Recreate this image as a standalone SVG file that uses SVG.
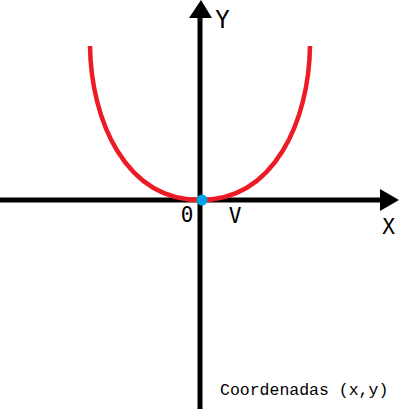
<svg xmlns="http://www.w3.org/2000/svg" width="401" height="409" viewBox="0 0 401 409">
<style>
.axis{stroke:#000;stroke-width:5;fill:none}
.head{fill:#000}
.curve{stroke:#ed1c24;stroke-width:4.5;fill:none}
.lbl{font-family:"DejaVu Sans Mono","Liberation Mono",monospace;fill:#000;text-anchor:middle}
</style>
<rect width="401" height="409" fill="#fff"/>
<g id="connectors">
<line class="axis" x1="0" y1="200" x2="385" y2="200"/>
<polygon class="head" points="380,189 399,200 380,211"/>
<line class="axis" x1="200" y1="409" x2="200" y2="14"/>
<polygon class="head" points="189,18 201,0 212,18"/>
</g>
<g id="curve">
<path class="curve" d="M90,46 C91,120 125,200 200,200 C275,200 309,120 310,46"/>
</g>
<g id="origin">
<circle cx="202" cy="200" r="5.5" fill="#00a2e8"/>
</g>
<g id="labels">
<text class="lbl" x="222.5" y="28" font-size="24">Y</text>
<text class="lbl" x="388.5" y="234" font-size="21">X</text>
<text class="lbl" x="187" y="222" font-size="21">0</text>
<text class="lbl" x="235" y="223" font-size="21">V</text>
<text x="220" y="395" font-family="Liberation Mono, monospace" font-size="16.5" fill="#000">Coordenadas (x,y)</text>
</g>
</svg>
